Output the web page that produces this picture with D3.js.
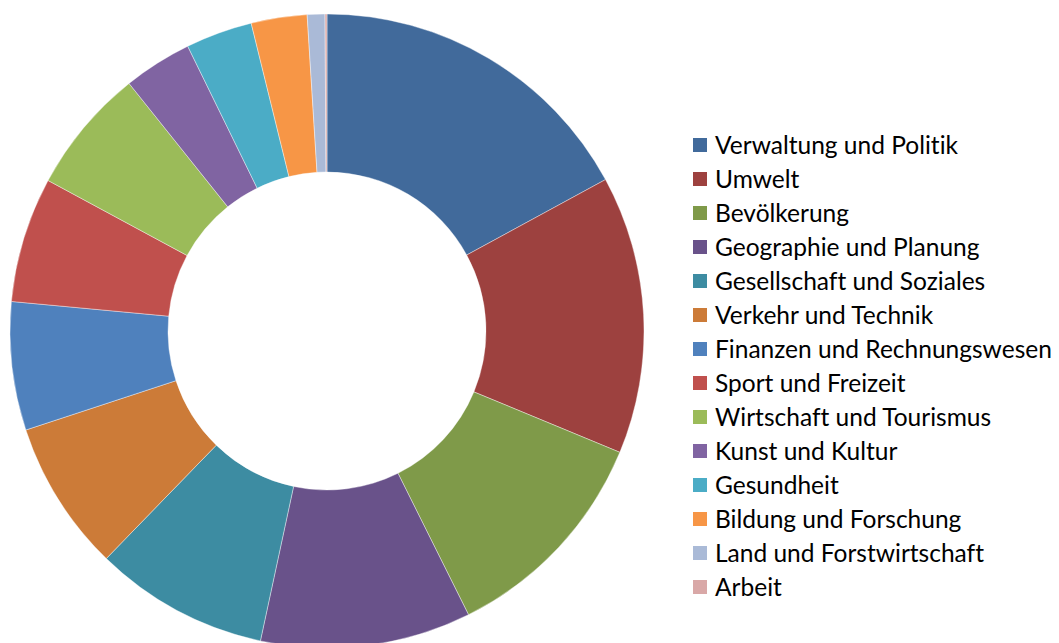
<!DOCTYPE html>
<html>
<head>
<meta charset="utf-8">
<script src="https://cdn.jsdelivr.net/npm/d3@7"></script>
<style>
  html, body { margin: 0; padding: 0; background: #fff; }
  text { font-family: "Lato", "Open Sans", sans-serif; fill: #000; font-variant-ligatures: none; }
</style>
</head>
<body>
<svg id="chart" width="1059" height="643"></svg>
<script>
// categories in drawing order (clockwise from 12 o'clock)
const categories = [
    "Verwaltung und Politik",
    "Umwelt",
    "Bevölkerung",
    "Geographie und Planung",
    "Gesellschaft und Soziales",
    "Verkehr und Technik",
    "Finanzen und Rechnungswesen",
    "Sport und Freizeit",
    "Wirtschaft und Tourismus",
    "Kunst und Kultur",
    "Gesundheit",
    "Bildung und Forschung",
    "Land und Forstwirtschaft",
    "Arbeit"
];

// share of each category (percent)
const values = [17.1, 14.2, 11.4, 10.75, 8.9, 7.7, 6.55, 6.4, 6.4, 3.5, 3.4, 2.85, 0.9, 0.1];

const colors = [
    "#416A9B", "#9D413F", "#7F9A49", "#69528A", "#3D8CA2", "#CC7B38",
    "#4F81BD", "#C0504D", "#9BBB59", "#8064A2", "#4BACC6", "#F79646",
    "#AABAD7", "#D9A8A7"
];

const data = categories.map((c, i) => ({name: c, value: values[i]}));

let svg = d3.select("#chart");

let cx = 327, cy = 331,
    outerR = 317, innerR = 159;

let color = d3.scaleOrdinal()
    .domain(categories)
    .range(colors);

let pie = d3.pie()
    .sort(null)
    .value(d => d.value);

let arc = d3.arc()
    .innerRadius(innerR)
    .outerRadius(outerR);

//Donut slices
let g = svg.append("g")
    .attr("transform", "translate(" + cx + "," + cy + ")");

g.selectAll("path")
    .data(pie(data))
    .enter().append("path")
    .attr("d", arc)
    .attr("fill", d => color(d.data.name))
    .attr("stroke", "#fff")
    .attr("stroke-width", 0.4)
    .attr("stroke-linejoin", "round");

//Legend
let legendX = 693, legendTop = 145, rowH = 34;

let legend = svg.append("g")
    .attr("transform", "translate(" + legendX + "," + legendTop + ")");

let rows = legend.selectAll("g")
    .data(categories)
    .enter().append("g")
    .attr("transform", (d, i) => "translate(0," + (i * rowH) + ")");

rows.append("rect")
    .attr("x", 0)
    .attr("y", -7)
    .attr("width", 14)
    .attr("height", 14)
    .attr("fill", d => color(d));

let labels = rows.append("text")
    .attr("x", 22)
    .attr("y", 0)
    .attr("dy", "0.36em")
    .style("font-size", "20px")
    .text(d => d);

// fit the longest label to the width it takes in the picture
let longest = d3.max(labels.nodes(), n => n.getComputedTextLength());
let fs = 20 * 337 / longest;
labels.style("font-size", fs.toFixed(2) + "px");
</script>
</body>
</html>
